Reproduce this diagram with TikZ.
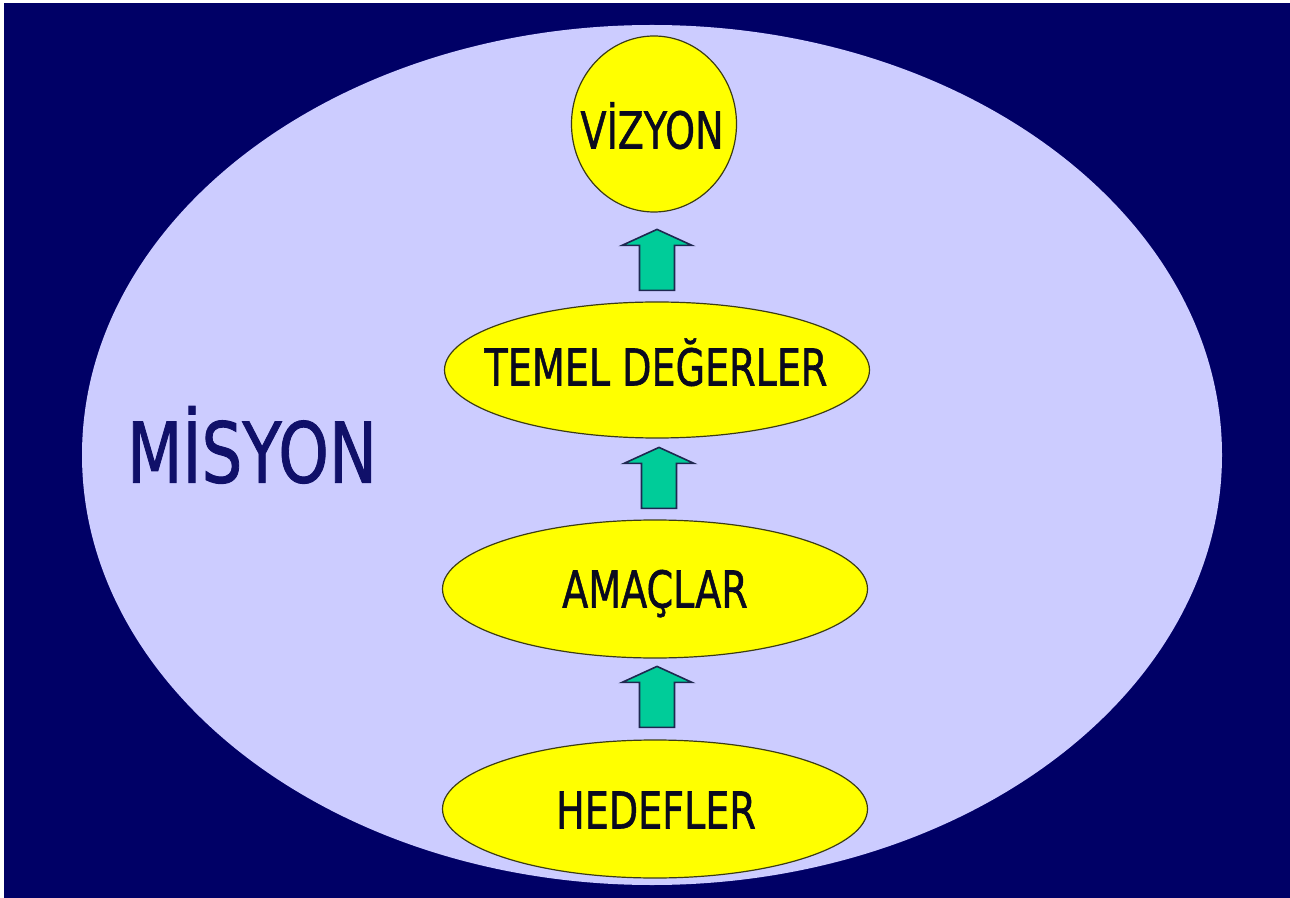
\documentclass[tikz,border=0pt]{standalone}
\usepackage{fontspec}
\usepackage{graphicx}
\setmainfont{DejaVu Sans}
\newfontfamily\tfont{DejaVu Sans}[FakeBold=1.2]
\usetikzlibrary{shapes.geometric,calc}
\definecolor{navybg}{RGB}{0,0,102}
\definecolor{lav}{RGB}{204,204,255}
\definecolor{yel}{RGB}{255,255,0}
\definecolor{edgecol}{RGB}{60,60,20}
\definecolor{arrowgreen}{RGB}{0,204,153}
\definecolor{arrowedge}{RGB}{30,40,80}
\definecolor{misyoncol}{RGB}{16,16,105}
\definecolor{txtcol}{RGB}{10,10,30}
\newcommand{\narrowtxt}[1]{\scalebox{0.75}[1]{#1}}
\begin{document}
\begin{tikzpicture}[x=0.5pt,y=-0.5pt,
  yell/.style={ellipse,fill=yel,draw=edgecol,line width=0.6pt,inner sep=0pt},
  lbl/.style={font=\tfont\fontsize{25.4}{28}\selectfont,text=txtcol,inner sep=0pt,text height=18.5pt,text depth=0pt},
  biglbl/.style={font=\tfont\fontsize{41.8}{46}\selectfont,text=misyoncol,inner sep=0pt,text height=30.5pt,text depth=0pt},
  uparrow/.pic={\draw[fill=arrowgreen,draw=arrowedge,line width=0.8pt]
     (-17.5,0) -- (-17.5,-45) -- (-35,-45) -- (0,-61) -- (35,-45) -- (17.5,-45) -- (17.5,0) -- cycle;}
]
\useasboundingbox (0,0) rectangle (1290,898);
\fill[white] (0,0) rectangle (1290,898);
\fill[navybg] (4,3) rectangle (1290,898);
% mission ellipse
\node[ellipse,fill=lav,inner sep=0pt,minimum width=570pt,minimum height=430pt] (mis) at (652,455) {};
\node[biglbl] (mistxt) at (252,452) {\scalebox{0.77}[1]{MİSYON}};
% inner ellipses
\node[yell,minimum width=82.5pt,minimum height=88pt] (viz) at (654,124) {};
\node[yell,minimum width=212.5pt,minimum height=68pt] (tem) at (657,370) {};
\node[yell,minimum width=212.5pt,minimum height=69pt] (ama) at (655,589) {};
\node[yell,minimum width=212.5pt,minimum height=69pt] (hed) at (655,809) {};
% labels
\node[lbl] (viztxt) at (652,130) {\narrowtxt{VİZYON}};
\node[lbl] (temtxt) at (656,367) {\narrowtxt{TEMEL DEĞERLER}};
\node[lbl] (amatxt) at (655,589) {\narrowtxt{AMAÇLAR}};
\node[lbl] (hedtxt) at (656,810) {\narrowtxt{HEDEFLER}};
% block arrows
\pic at ($(tem.north)+(0,-11)$) {uparrow};
\pic at ($(ama.north)+(4,-11)$) {uparrow};
\pic at ($(hed.north)+(2,-12)$) {uparrow};
\end{tikzpicture}
\end{document}
